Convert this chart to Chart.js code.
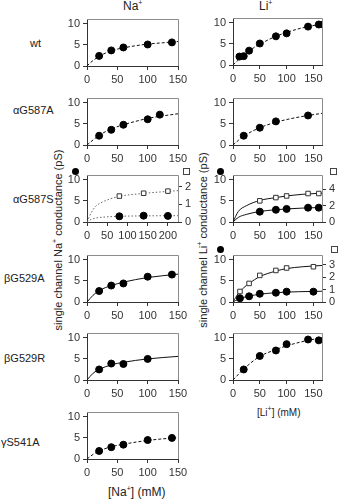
<!DOCTYPE html>
<html><head><meta charset="utf-8">
<script src="https://cdn.jsdelivr.net/npm/chart.js@4/dist/chart.umd.min.js"></script>
<style>
html,body{margin:0;padding:0;background:#fff;}
body{width:339px;height:499px;position:relative;overflow:hidden;font-family:"Liberation Sans",Arial,sans-serif;color:#222;}
canvas{position:absolute;}
.t{position:absolute;font-size:11px;white-space:nowrap;line-height:12px;}
.rot{position:absolute;font-size:11px;white-space:nowrap;transform:translate(-50%,-50%) rotate(-90deg);line-height:12px;}
.dot{position:absolute;width:7px;height:7px;border-radius:50%;background:#000;}
.sq{position:absolute;width:5px;height:5px;border:1px solid #444;background:#fff;}
sup{font-size:7px;vertical-align:5px;line-height:0;}
</style></head><body>
<div class="t" style="left:123px;top:0px;font-size:12px">Na<sup>+</sup></div>
<div class="t" style="left:259px;top:0px;font-size:12px">Li<sup>+</sup></div>
<div class="t" style="left:30px;top:37px">wt</div>
<div class="t" style="left:13px;top:104px">αG587A</div>
<div class="t" style="left:13px;top:193px">αG587S</div>
<div class="t" style="left:4px;top:272px">βG529A</div>
<div class="t" style="left:4px;top:352px">βG529R</div>
<div class="t" style="left:1px;top:436px">γS541A</div>
<div class="rot" style="left:58px;top:240px">single channel Na<sup>+</sup> conductance (pS)</div>
<div class="rot" style="left:203px;top:240px">single channel Li<sup>+</sup> conductance (pS)</div>
<div class="t" style="left:108px;top:486px;font-size:12px">[Na<sup>+</sup>] (mM)</div>
<div class="t" style="left:257px;top:407px;font-size:10px">[Li<sup>+</sup>] (mM)</div>
<div class="dot" style="left:72px;top:168px"></div>
<div class="sq" style="left:183px;top:168px"></div>
<div class="dot" style="left:217px;top:168px"></div>
<div class="sq" style="left:330px;top:168px"></div>
<div class="dot" style="left:217px;top:246px"></div>
<div class="sq" style="left:331px;top:246px"></div>
<script>
// ---- tick labels ----
const yTicks = [0, 5, 10];
const naTicks = [0, 50, 100, 150];
const naTicksS = [0, 50, 100, 150, 200];
const liTicks = [0, 50, 100, 150];
const rTicksNaS = [0, 1, 2];
const rTicksLiS = [0, 2, 4];
const rTicksLiA = [0, 1, 2, 3];

// ---- wt ----
const wtNaX = [20, 40, 60, 100, 140];
const wtNaY = [2.4, 3.7, 4.4, 5.1, 5.6];
const wtNaFitX = [0, 5, 10, 20, 40, 60, 80, 100, 125, 150];
const wtNaFitY = [0, 0.7, 1.3, 2.3, 3.6, 4.3, 4.8, 5.2, 5.5, 5.8];
const wtLiX = [12, 20, 30, 50, 80, 100, 140, 160];
const wtLiY = [2.0, 2.1, 3.4, 5.1, 6.8, 7.5, 9.1, 9.6];
const wtLiErr = [0, 0, 0, 0, 0, 0, 0, 0.7];
const wtLiFitX = [0, 10, 20, 40, 60, 80, 100, 120, 140, 160, 166];
const wtLiFitY = [0, 1.2, 2.3, 4.2, 5.6, 6.8, 7.7, 8.5, 9.1, 9.6, 9.75];
// ---- aG587A ----
const aANaX = [20, 40, 60, 100, 120];
const aANaY = [2.2, 3.6, 4.8, 6.1, 7.2];
const aANaFitX = [0, 10, 20, 40, 60, 80, 100, 120, 150];
const aANaFitY = [0, 1.2, 2.3, 3.8, 4.8, 5.6, 6.3, 6.8, 7.4];
const aALiX = [20, 50, 80, 140];
const aALiY = [2.2, 4.1, 5.6, 7.0];
const aALiFitX = [0, 10, 20, 50, 80, 110, 140, 166];
const aALiFitY = [0, 1.1, 2.1, 4.1, 5.4, 6.3, 7.0, 7.5];
// ---- aG587S (circles: left axis, squares: right axis) ----
const aSNaX = [80, 140, 200];
const aSNaCirc = [1.35, 1.5, 1.45];
const aSNaSq = [1.47, 1.63, 1.75];
const aSNaCircFitX = [0, 10, 20, 40, 80, 140, 225];
const aSNaCircFitY = [0, 0.6, 0.9, 1.15, 1.35, 1.45, 1.5];
const aSNaSqFitX = [0, 10, 20, 40, 80, 140, 225];
const aSNaSqFitY = [0, 0.5, 0.85, 1.15, 1.45, 1.62, 1.78];
const aSLiX = [50, 80, 100, 140, 160];
const aSLiCirc = [2.45, 2.9, 3.1, 3.4, 3.4];
const aSLiSq = [2.6, 3.0, 3.2, 3.5, 3.5];
const aSLiCircFitX = [0, 10, 25, 50, 80, 100, 130, 166];
const aSLiCircFitY = [0, 1.1, 1.8, 2.5, 2.9, 3.1, 3.3, 3.45];
const aSLiSqFitX = [0, 10, 25, 50, 80, 100, 130, 166];
const aSLiSqFitY = [0, 1.3, 2.0, 2.65, 3.0, 3.2, 3.4, 3.55];
// ---- bG529A ----
const bANaX = [20, 40, 60, 100, 140];
const bANaY = [2.6, 3.9, 4.4, 6.0, 6.5];
const bANaFitX = [0, 10, 20, 40, 60, 100, 150];
const bANaFitY = [0, 1.6, 2.7, 3.9, 4.7, 5.8, 6.6];
const bALiX = [13, 30, 50, 80, 100, 150];
const bALiCirc = [0.9, 1.35, 1.95, 2.2, 2.45, 2.45];
const bALiSq = [0.85, 1.5, 2.15, 2.55, 2.75, 2.85];
const bALiCircFitX = [0, 10, 20, 30, 50, 80, 100, 145, 166];
const bALiCircFitY = [0, 0.7, 1.1, 1.4, 1.85, 2.2, 2.35, 2.5, 2.55];
const bALiSqFitX = [0, 10, 20, 30, 50, 80, 100, 130, 166];
const bALiSqFitY = [0, 0.7, 1.15, 1.5, 2.05, 2.5, 2.7, 2.85, 2.95];
// ---- bG529R ----
const bRNaX = [20, 40, 60, 100];
const bRNaY = [2.5, 3.9, 3.8, 5.0];
const bRNaFitX = [0, 10, 20, 40, 60, 100, 150];
const bRNaFitY = [0, 1.6, 2.5, 3.6, 4.2, 5.0, 5.6];
const bRLiX = [20, 50, 80, 100, 140, 160];
const bRLiY = [2.5, 5.7, 7.0, 8.5, 9.6, 9.4];
const bRLiFitX = [0, 20, 50, 80, 100, 140, 166];
const bRLiFitY = [0, 2.6, 5.6, 7.2, 8.1, 9.4, 10.0];
// ---- gS541A ----
const gSNaX = [20, 40, 60, 100, 140];
const gSNaY = [1.9, 2.8, 3.4, 4.5, 5.0];
const gSNaFitX = [0, 10, 20, 40, 60, 100, 150];
const gSNaFitY = [0, 1.1, 1.9, 2.9, 3.5, 4.4, 5.1];

const xy = (xs, ys) => xs.map((x, i) => ({x, y: ys[i]}));
const FONT = {family: '"Liberation Sans", Arial, sans-serif', size: 11};

function fit(xs, ys, style, axis) {
  const dash = style === 'dot' ? [1.5, 2] : style === 'dash' ? [3, 2] : [];
  return {type: 'line', data: xy(xs, ys), showLine: true, pointRadius: 0, borderWidth: 1,
    borderColor: style === 'dot' ? '#666' : '#111', borderDash: dash, cubicInterpolationMode: 'monotone',
    yAxisID: axis || 'y', order: 2};
}
function pts(xs, ys, shape, axis, err) {
  const sq = shape === 'sq';
  return {type: 'scatter', data: xy(xs, ys), showLine: false, pointStyle: sq ? 'rect' : 'circle',
    pointRadius: sq ? 3.2 : 3.5, backgroundColor: sq ? '#fff' : '#000', borderColor: sq ? '#333' : '#000',
    borderWidth: 1, yAxisID: axis || 'y', order: 1, errorBars: err};
}

const topRight = {id: 'topRight', beforeDatasetsDraw(chart) {
  const {ctx, chartArea: a} = chart;
  ctx.save(); ctx.strokeStyle = '#8c8c8c'; ctx.lineWidth = 1;
  ctx.beginPath();
  ctx.moveTo(a.left, Math.floor(a.top) + 0.5); ctx.lineTo(Math.floor(a.right) + 0.5, Math.floor(a.top) + 0.5);
  ctx.lineTo(Math.floor(a.right) + 0.5, a.bottom);
  ctx.stroke(); ctx.restore();
}};
const errPlugin = {id: 'err', afterDatasetsDraw(chart) {
  const {ctx} = chart;
  chart.data.datasets.forEach(ds => {
    if (!ds.errorBars) return;
    const ys = chart.scales[ds.yAxisID || 'y'], xs = chart.scales.x;
    ds.data.forEach((p, i) => {
      const e = ds.errorBars[i]; if (!e) return;
      const px = Math.round(xs.getPixelForValue(p.x)) + 0.5;
      const y1 = ys.getPixelForValue(p.y - e), y2 = ys.getPixelForValue(p.y + e);
      ctx.save(); ctx.strokeStyle = '#000'; ctx.lineWidth = 1; ctx.beginPath();
      ctx.moveTo(px, y1); ctx.lineTo(px, y2);
      ctx.moveTo(px - 2.5, y1); ctx.lineTo(px + 2.5, y1);
      ctx.moveTo(px - 2.5, y2); ctx.lineTo(px + 2.5, y2);
      ctx.stroke(); ctx.restore();
    });
  });
}};

const YW = 32, XH = 20, TOPPAD = 6, AH = 50;
function axisCommon(ticks) {
  return {
    afterBuildTicks: s => { s.ticks = ticks.map(v => ({value: v})); },
    grid: {drawOnChartArea: false, drawTicks: true, tickLength: 4, color: '#333'},
    border: {display: true, color: '#333', width: 1},
    ticks: {font: FONT, color: '#333', padding: 3, maxRotation: 0, autoSkip: false}
  };
}

function makePanel(side, zero, xTicks, xMax, datasets, rightTicks, rightMax) {
  const areaLeft = side === 'L' ? 87 : 233;
  const areaW = side === 'L' ? 91 : 89;
  const rp = rightTicks ? 16 : 14;
  const cv = document.createElement('canvas');
  const W = YW + areaW + rp, H = TOPPAD + AH + XH;
  cv.width = W; cv.height = H;
  cv.style.width = W + 'px'; cv.style.height = H + 'px';
  cv.style.left = (areaLeft - YW) + 'px';
  cv.style.top = (zero - AH - TOPPAD) + 'px';
  document.body.appendChild(cv);
  const scales = {
    x: Object.assign(axisCommon(xTicks), {type: 'linear', min: 0, max: xMax,
      afterFit: s => { s.height = XH; }}),
    y: Object.assign(axisCommon(yTicks), {type: 'linear', min: 0, max: 11, position: 'left',
      afterFit: s => { s.width = YW; }})
  };
  if (rightTicks) {
    scales.y2 = Object.assign(axisCommon(rightTicks), {type: 'linear', min: 0, max: rightMax, position: 'right',
      afterFit: s => { s.width = rp; }});
    scales.y2.border = {display: false};
  }
  new Chart(cv, {
    type: 'scatter',
    data: {datasets},
    options: {
      responsive: false, animation: false, devicePixelRatio: 1,
      layout: {padding: {top: TOPPAD, right: rightTicks ? 0 : rp, left: 0, bottom: 0}},
      plugins: {legend: {display: false}, tooltip: {enabled: false}},
      scales
    },
    plugins: [topRight, errPlugin]
  });
}

// Na+ column
makePanel('L', 66, naTicks, 150, [fit(wtNaFitX, wtNaFitY, 'dash'), pts(wtNaX, wtNaY)]);
makePanel('L', 145, naTicks, 150, [fit(aANaFitX, aANaFitY, 'dash'), pts(aANaX, aANaY)]);
makePanel('L', 222, naTicksS, 225, [
  fit(aSNaCircFitX, aSNaCircFitY, 'dot'), fit(aSNaSqFitX, aSNaSqFitY, 'dot', 'y2'),
  pts(aSNaX, aSNaCirc), pts(aSNaX, aSNaSq, 'sq', 'y2')], rTicksNaS, 2.63);
makePanel('L', 302, naTicks, 150, [fit(bANaFitX, bANaFitY, 'solid'), pts(bANaX, bANaY)]);
makePanel('L', 380, naTicks, 150, [fit(bRNaFitX, bRNaFitY, 'solid'), pts(bRNaX, bRNaY)]);
makePanel('L', 459, naTicks, 150, [fit(gSNaFitX, gSNaFitY, 'dash'), pts(gSNaX, gSNaY)]);
// Li+ column
makePanel('R', 65, liTicks, 166, [fit(wtLiFitX, wtLiFitY, 'dash'), pts(wtLiX, wtLiY, 'circle', 'y', wtLiErr)]);
makePanel('R', 145, liTicks, 166, [fit(aALiFitX, aALiFitY, 'dash'), pts(aALiX, aALiY)]);
makePanel('R', 222, liTicks, 166, [
  fit(aSLiCircFitX, aSLiCircFitY, 'solid'), fit(aSLiSqFitX, aSLiSqFitY, 'solid', 'y2'),
  pts(aSLiX, aSLiCirc), pts(aSLiX, aSLiSq, 'sq', 'y2')], rTicksLiS, 5.7);
makePanel('R', 302, liTicks, 166, [
  fit(bALiCircFitX, bALiCircFitY, 'solid'), fit(bALiSqFitX, bALiSqFitY, 'solid', 'y2'),
  pts(bALiX, bALiCirc), pts(bALiX, bALiSq, 'sq', 'y2')], rTicksLiA, 3.75);
makePanel('R', 380, liTicks, 166, [fit(bRLiFitX, bRLiFitY, 'dash'), pts(bRLiX, bRLiY)]);
</script>
</body></html>
